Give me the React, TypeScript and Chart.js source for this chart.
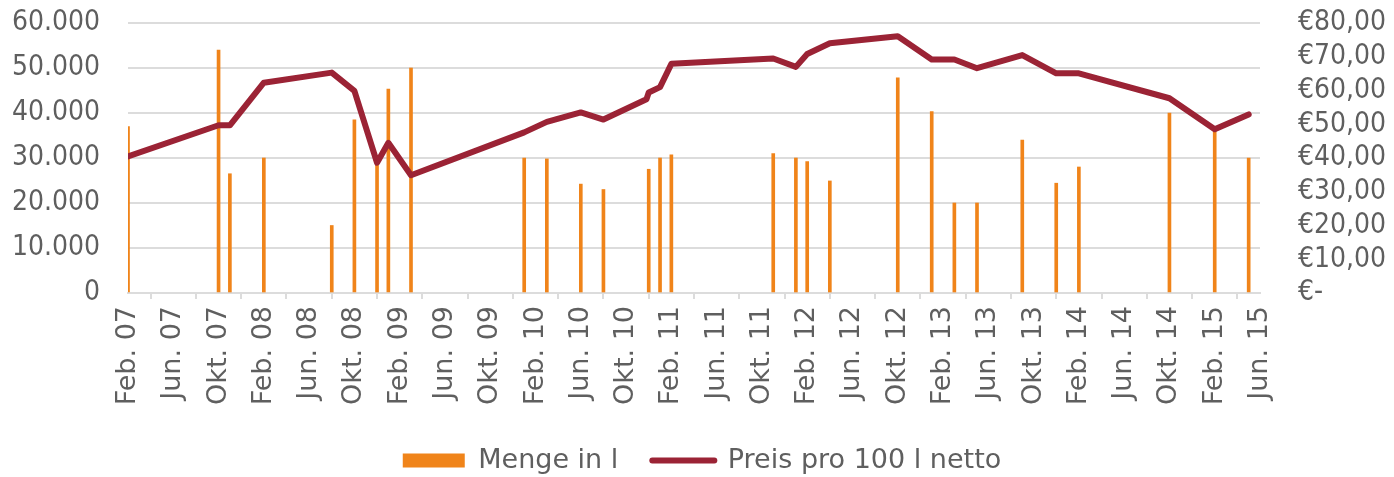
import { useEffect, useRef } from 'react';
import { Chart, registerables } from 'chart.js';

Chart.register(...registerables);

// x values are months counted from Feb. 2007
const X_TICK_LABELS = [
  'Feb. 07', 'Jun. 07', 'Okt. 07', 'Feb. 08', 'Jun. 08', 'Okt. 08', 'Feb. 09', 'Jun. 09', 'Okt. 09',
  'Feb. 10', 'Jun. 10', 'Okt. 10', 'Feb. 11', 'Jun. 11', 'Okt. 11', 'Feb. 12', 'Jun. 12', 'Okt. 12',
  'Feb. 13', 'Jun. 13', 'Okt. 13', 'Feb. 14', 'Jun. 14', 'Okt. 14', 'Feb. 15', 'Jun. 15',
];

const BAR_MONTHS = [0, 8, 9, 12, 18, 20, 22, 23, 25, 35, 37, 40, 42, 46, 47, 48, 57, 59, 60, 62, 68, 71, 73, 75, 79, 82, 84, 92, 96, 99];
const BAR_LITERS = [37000, 54000, 26500, 30000, 15000, 38500, 30000, 45300, 50000, 30000, 29800, 24200, 23000, 27500, 30000, 30700, 31000, 30000, 29200, 24900, 47800, 40300, 20000, 20000, 34000, 24400, 28000, 40000, 36500, 30000];

const LINE_MONTHS = [0, 8, 9, 12, 18, 20, 22, 23, 25, 35, 37, 40, 42, 45.8, 46, 47, 48, 57, 59, 60, 62, 68, 71, 73, 75, 79, 82, 84, 92, 96, 99];
const LINE_PRICES = [40.5, 49.7, 49.7, 62.3, 65.3, 59.9, 38.6, 44.5, 34.9, 47.6, 50.7, 53.5, 51.4, 57.4, 59.4, 61.0, 67.9, 69.5, 67.0, 70.8, 74.0, 76.1, 69.2, 69.2, 66.6, 70.5, 65.1, 65.1, 57.7, 48.5, 52.9];

const BAR_LABEL = 'Menge in l';
const LINE_LABEL = 'Preis pro 100 l netto';

const BAR_COLOR = '#F0841A';
const LINE_COLOR = '#9B2335';
const TEXT_COLOR = '#5f5f5f';
const GRID_COLOR = '#dcdcdc';
const NARROW_FONT = '"DejaVu Sans Condensed", "DejaVu Sans", sans-serif';
const WIDE_FONT = '"DejaVu Sans", sans-serif';

export default function App() {
  const canvasRef = useRef<HTMLCanvasElement | null>(null);

  useEffect(() => {
    document.body.style.margin = '0';
    const canvas = canvasRef.current;
    if (!canvas) return;

    const chart = new Chart(canvas, {
      type: 'bar',
      data: {
        datasets: [
          {
            type: 'line',
            label: LINE_LABEL,
            data: LINE_MONTHS.map((m, i) => ({ x: m, y: LINE_PRICES[i] })),
            yAxisID: 'y1',
            borderColor: LINE_COLOR,
            backgroundColor: LINE_COLOR,
            borderWidth: 6,
            pointRadius: 0,
            tension: 0,
            borderJoinStyle: 'round',
            borderCapStyle: 'round',
            order: 0,
          } as any,
          {
            type: 'bar',
            label: BAR_LABEL,
            data: BAR_MONTHS.map((m, i) => ({ x: m, y: BAR_LITERS[i] })),
            yAxisID: 'y',
            backgroundColor: BAR_COLOR,
            borderWidth: 0,
            barThickness: 3,
            grouped: false,
            order: 1,
          } as any,
        ],
      },
      options: {
        responsive: false,
        animation: false,
        layout: { padding: { top: 23, left: 10, right: 0, bottom: -7 } },
        font: { family: NARROW_FONT, size: 28 },
        color: TEXT_COLOR,
        scales: {
          x: {
            type: 'linear',
            min: 0,
            max: 100,
            offset: false,
            grid: { drawOnChartArea: false, drawTicks: true, tickLength: 6, color: GRID_COLOR, lineWidth: 2 },
            border: { display: true, color: GRID_COLOR, width: 2 },
            ticks: {
              stepSize: 4,
              autoSkip: false,
              minRotation: 90,
              maxRotation: 90,
              padding: 7,
              color: TEXT_COLOR,
              font: { family: WIDE_FONT, size: 27 },
              callback: (v: any) => {
                const idx = Math.round(Number(v) / 4);
                return X_TICK_LABELS[idx] ?? '';
              },
            },
            afterFit: (s: any) => { s.height = 120; },
          },
          y: {
            type: 'linear',
            position: 'left',
            min: 0,
            max: 60000,
            grid: { color: GRID_COLOR, lineWidth: 2, drawTicks: true, tickLength: 26, tickColor: 'rgba(0,0,0,0)' },
            border: { display: false },
            ticks: {
              stepSize: 10000,
              autoSkip: false,
              padding: 2,
              color: TEXT_COLOR,
              font: { family: NARROW_FONT, size: 28 },
              callback: (v: any) => Number(v).toLocaleString('de-DE'),
            },
            afterFit: (s: any) => { s.width = 118; },
          },
          y1: {
            type: 'linear',
            position: 'right',
            min: 0,
            max: 80,
            grid: { drawOnChartArea: false, drawTicks: true, tickLength: 36, tickColor: 'rgba(0,0,0,0)' },
            border: { display: false },
            ticks: {
              stepSize: 10,
              autoSkip: false,
              padding: 2,
              color: TEXT_COLOR,
              font: { family: NARROW_FONT, size: 28 },
              callback: (v: any) => (Number(v) === 0 ? '€-' : '€' + Number(v).toFixed(2).replace('.', ',')),
            },
            afterFit: (s: any) => { s.width = 134; },
          },
        },
        plugins: {
          tooltip: { enabled: false },
          legend: {
            display: true,
            position: 'bottom',
            labels: {
              usePointStyle: true,
              pointStyleWidth: 62,
              boxHeight: 14,
              padding: 34,
              color: TEXT_COLOR,
              font: { family: WIDE_FONT, size: 27 },
              generateLabels: () => [
                { text: BAR_LABEL, fillStyle: BAR_COLOR, strokeStyle: BAR_COLOR, lineWidth: 0, pointStyle: 'rect', datasetIndex: 1, hidden: false, fontColor: TEXT_COLOR },
                { text: LINE_LABEL, fillStyle: LINE_COLOR, strokeStyle: LINE_COLOR, lineWidth: 6, lineCap: 'round', pointStyle: 'line', datasetIndex: 0, hidden: false, fontColor: TEXT_COLOR },
              ] as any,
            },
          },
        },
      } as any,
    });

    return () => chart.destroy();
  }, []);

  return (
    <div style={{ width: 1394, height: 477 }}>
      <canvas ref={canvasRef} width={1394} height={477} style={{ display: 'block' }} />
    </div>
  );
}
